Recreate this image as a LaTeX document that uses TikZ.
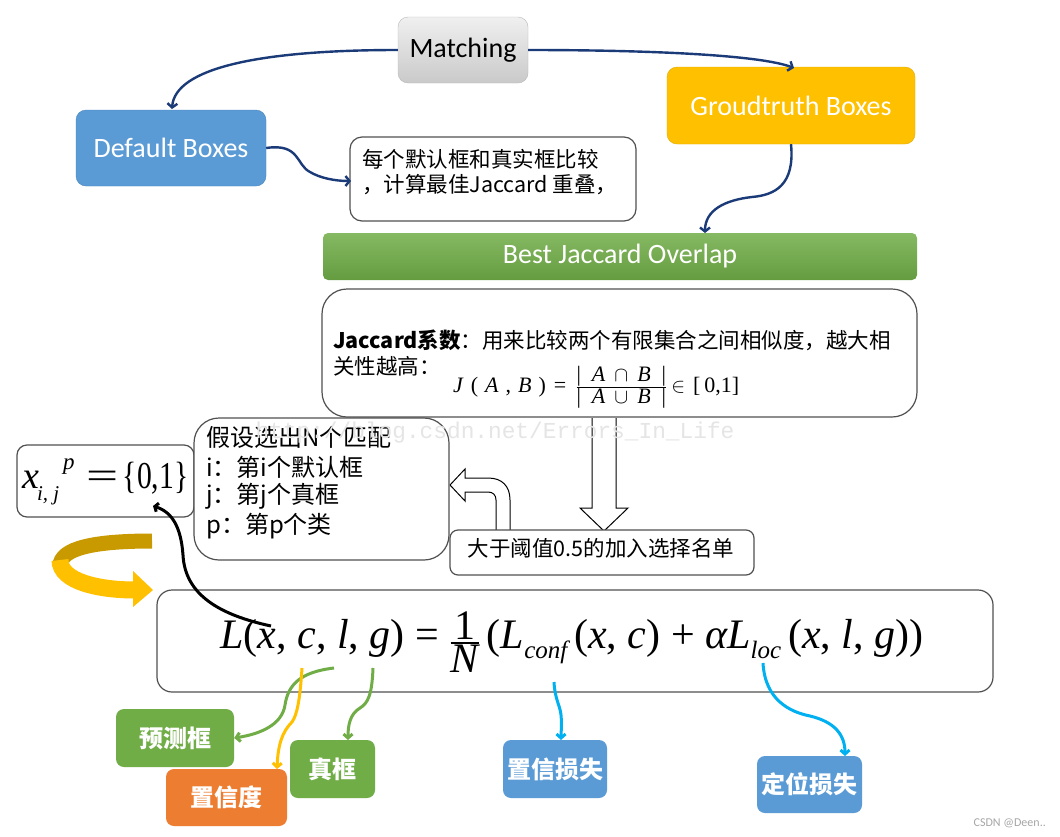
\documentclass[tikz,border=0pt]{standalone}
\usepackage{amsmath}
\usepackage{graphicx}
\usepackage{fontspec}
\setmainfont{Carlito}
\newfontfamily\cjk{Noto Sans CJK SC}
\newfontfamily\tmf{Liberation Serif}
\newfontfamily\monof{Liberation Mono}
\newfontfamily\lat{Carlito}
\usetikzlibrary{arrows.meta}
\definecolor{navyc}{HTML}{1B3A78}
\definecolor{bluebox}{HTML}{5B9BD5}
\definecolor{blueedge}{HTML}{4A86BE}
\definecolor{goldc}{HTML}{FFC000}
\definecolor{goldedge}{HTML}{E3AA00}
\definecolor{darkgold}{HTML}{C99A00}
\definecolor{greenc}{HTML}{70AD47}
\definecolor{orangec}{HTML}{ED7D31}
\definecolor{cyanc}{HTML}{00B0F0}
\definecolor{edgec}{HTML}{505050}
\newcommand\gp[1]{\hspace{#1pt}}
\tikzset{
  hdrbox/.style={rounded corners=10pt, text=white, font=\lat\fontsize{28}{28}\selectfont, inner sep=0pt},
  wbox/.style={draw=edgec, line width=1.2pt, fill=white, inner sep=0pt},
  tagbox/.style={rounded corners=8pt, text=white, inner sep=0pt, font=\cjk\bfseries\fontsize{24}{24}\selectfont},
  conn/.style={draw=navyc, line width=2.4pt, -{Straight Barb[length=4pt,width=10pt]}},
  colarrow/.style={line width=3pt, -{Straight Barb[length=4pt,width=9pt]}},
  txt/.style={inner sep=0pt, anchor=west},
}
\begin{document}
\begin{tikzpicture}[x=1pt,y=-1pt]
\useasboundingbox (0,0) rectangle (1060,836);
\fill[white] (0,0) rectangle (1060,836);

% top boxes
\node[hdrbox, draw=gray!55, top color=gray!12, bottom color=gray!42, text=black, minimum width=130, minimum height=66] (match) at (463,50) {Matching};
\node[hdrbox, fill=bluebox, draw=blueedge, minimum width=190, minimum height=76] (dflt) at (171,148) {Default Boxes};
\node[hdrbox, fill=goldc, draw=goldedge, minimum width=248, minimum height=77] (gt) at (791,105.5) {Groudtruth Boxes};
\node[wbox, rounded corners=12pt, minimum width=286, minimum height=84] (cmt) at (493,179) {};
\node[txt, font=\cjk\fontsize{21.5}{21.5}\selectfont] (cmt1) at (362,159) {每个默认框和真实框比较};
\node[txt, font=\cjk\fontsize{21.5}{21.5}\selectfont] (cmt2) at (362,185) {，计算最佳Jaccard 重叠，};
\node[hdrbox, rounded corners=5pt, top color=greenc!85!white, bottom color=greenc!90!black, minimum width=594, minimum height=47] (best) at (620,256.5) {Best Jaccard Overlap};

% connectors on top
\draw[conn] (match.west) .. controls (260,50) and (175,68) .. (172,109);
\draw[conn] (match.east) .. controls (650,50) and (760,55) .. (794,68);
\coordinate (cmtin) at (351,181);
\draw[conn] (dflt.east) .. controls (300,143) and (296,165) .. (310,172) .. controls (320,178) and (335,181) .. (cmtin);
\coordinate (bestin) at (705,233);
\draw[conn] (gt.south) .. controls (795,185) and (775,195) .. (752,197) .. controls (725,200) and (705,210) .. (bestin);

% Jaccard box
\node[wbox, rounded corners=25pt, minimum width=595, minimum height=128] (jac) at (619.5,353) {};
\node[txt, font=\cjk\fontsize{21.5}{21.5}\selectfont] (jac1) at (333,340) {{\bfseries Jaccard系数}：用来比较两个有限集合之间相似度，越大相};
\node[txt, font=\cjk\fontsize{21.5}{21.5}\selectfont] (jac2) at (333,366) {关性越高：};
\node[inner sep=0pt, anchor=west, font=\tmf\fontsize{22}{22}\selectfont] (jform) at (453,387) {\textit{J}\gp{7}(\gp{7}\textit{A}\gp{7},\gp{7}\textit{B}\gp{7})\gp{8}=\gp{9}$\genfrac{}{}{0.6pt}{}{\mbox{|\gp{11}\textit{A}\gp{9}$\cap$\gp{9}\textit{B}\gp{11}|}}{\mbox{|\gp{11}\textit{A}\gp{9}$\cup$\gp{9}\textit{B}\gp{11}|}}$\gp{4}$\in$\gp{8}[\gp{4}0,1]};

% hollow arrows
\draw[line width=1pt, fill=white] (592,418) -- (592,508) -- (580,508) -- (604,531) -- (628,508) -- (616,508) -- (616,418);
\draw[line width=1pt, fill=white] (450,485) -- (465,469) -- (465,478) -- (488,478) .. controls (502,478) and (510,486) .. (510,500) -- (510,531) -- (496,531) -- (496,500) .. controls (496,495) and (493,492) .. (488,492) -- (465,492) -- (465,501) -- cycle;

% threshold box
\node[wbox, rounded corners=8pt, minimum width=304, minimum height=45] (thr) at (602,552.5) {};
\node[inner sep=0pt, font=\cjk\fontsize{21.5}{21.5}\selectfont] (thrt) at (601,548) {大于阈值0.5的加入选择名单};

% x box
\node[wbox, rounded corners=10pt, minimum width=177, minimum height=72] (xb) at (105.5,481) {};
\node[inner sep=0pt, anchor=base west, font=\tmf\fontsize{38}{38}\selectfont] (xform) at (22,488) {\textit{x}\hspace{-2pt}\raisebox{-12pt}{\fontsize{21}{21}\selectfont\itshape i, j}\hspace{4pt}\raisebox{19pt}{\fontsize{23}{23}\selectfont\itshape p}\hspace{12pt}\scalebox{1.5}[1]{=}\hspace{4pt}\scalebox{0.78}[1]{\{0,1\}}};

% assumption box
\node[wbox, rounded corners=25pt, minimum width=255, minimum height=142] (asm) at (321.5,489) {};
\node[txt, font=\cjk\fontsize{24}{24}\selectfont] (asm1) at (206,437) {假设选出N个匹配};
\node[txt, font=\cjk\fontsize{24}{24}\selectfont] (asm2) at (206,467) {i：第i个默认框};
\node[txt, font=\cjk\fontsize{24}{24}\selectfont] (asm3) at (206,496) {j：第j个真框};
\node[txt, font=\cjk\fontsize{24}{24}\selectfont] (asm4) at (206,526) {p：第p个类};

% watermark
\node[inner sep=0pt, text=gray!20, font=\monof\fontsize{22.8}{22.8}\selectfont] (wm) at (495,433) {http://blog.csdn.net/Errors\_In\_Life};

% loss box
\node[wbox, rounded corners=15pt, minimum width=836, minimum height=102] (loss) at (575,641) {};
\node[inner sep=0pt, font=\tmf\fontsize{42}{42}\selectfont] (lform) at (572,642) {\textit{L}(\textit{x}, \textit{c}, \textit{l}, \textit{g}) = $\genfrac{}{}{1.6pt}{}{\mbox{1}}{\mbox{\itshape N}}$\,(\textit{L}\raisebox{-10pt}{\fontsize{25}{25}\selectfont\itshape conf}\,(\textit{x}, \textit{c}) + \textit{αL}\raisebox{-10pt}{\fontsize{25}{25}\selectfont\itshape loc}\,(\textit{x}, \textit{l}, \textit{g}))};

% yellow ribbon arrow
\draw[darkgold, line width=15pt] (152,541) .. controls (95,541) and (60,548) .. (60,566);
\draw[goldc, line width=17pt] (60,560) .. controls (60,582) and (100,590) .. (135,590);
\fill[goldc] (133,571) -- (153,590) -- (133,607) -- cycle;

% black curve
\coordinate (lx) at (271,626);
\draw[line width=3pt, -{Straight Barb[length=3pt,width=9pt]}] (lx) .. controls (220,615) and (185,595) .. (183,555) .. controls (181,527) and (172,512) .. (153,506);

% bottom tags
\node[tagbox, fill=greenc, minimum width=118, minimum height=58] (pred) at (175,738) {预测框};
\node[tagbox, fill=orangec, minimum width=121, minimum height=57] (conf) at (226.5,797.5) {置信度};
\node[tagbox, fill=greenc, minimum width=85, minimum height=58] (gtb) at (332.5,769) {真框};
\node[tagbox, fill=bluebox, minimum width=104, minimum height=58] (closs) at (555,769) {置信损失};
\node[tagbox, fill=bluebox, minimum width=105, minimum height=57] (lloss) at (809.5,784.5) {定位损失};

% colored connectors
\coordinate (cs) at (334,668);
\coordinate (ys) at (302,668);
\coordinate (gs) at (373,668);
\coordinate (bs) at (554,682);
\coordinate (ls) at (763,663);
\draw[colarrow, greenc] (cs) .. controls (300,672) and (288,685) .. (285,705) .. controls (282,725) and (260,734) .. (pred.east);
\draw[colarrow, goldc] (ys) .. controls (300,700) and (297,715) .. (292,722) .. controls (282,732) and (278,745) .. (277,769);
\draw[colarrow, greenc] (gs) .. controls (372,695) and (368,703) .. (360,708) .. controls (350,714) and (348,725) .. (348,740);
\draw[colarrow, cyanc] (bs) .. controls (555,700) and (560,705) .. (561,715) .. controls (562,725) and (561,732) .. (561,740);
\draw[colarrow, cyanc] (ls) .. controls (765,700) and (790,712) .. (810,716) .. controls (835,722) and (845,735) .. (845,756);

% corner watermark
\node[inner sep=0pt, anchor=east, text=gray!70, font=\lat\fontsize{12}{12}\selectfont] (csdn) at (1046,823) {CSDN @Deen..};
\end{tikzpicture}
\end{document}
